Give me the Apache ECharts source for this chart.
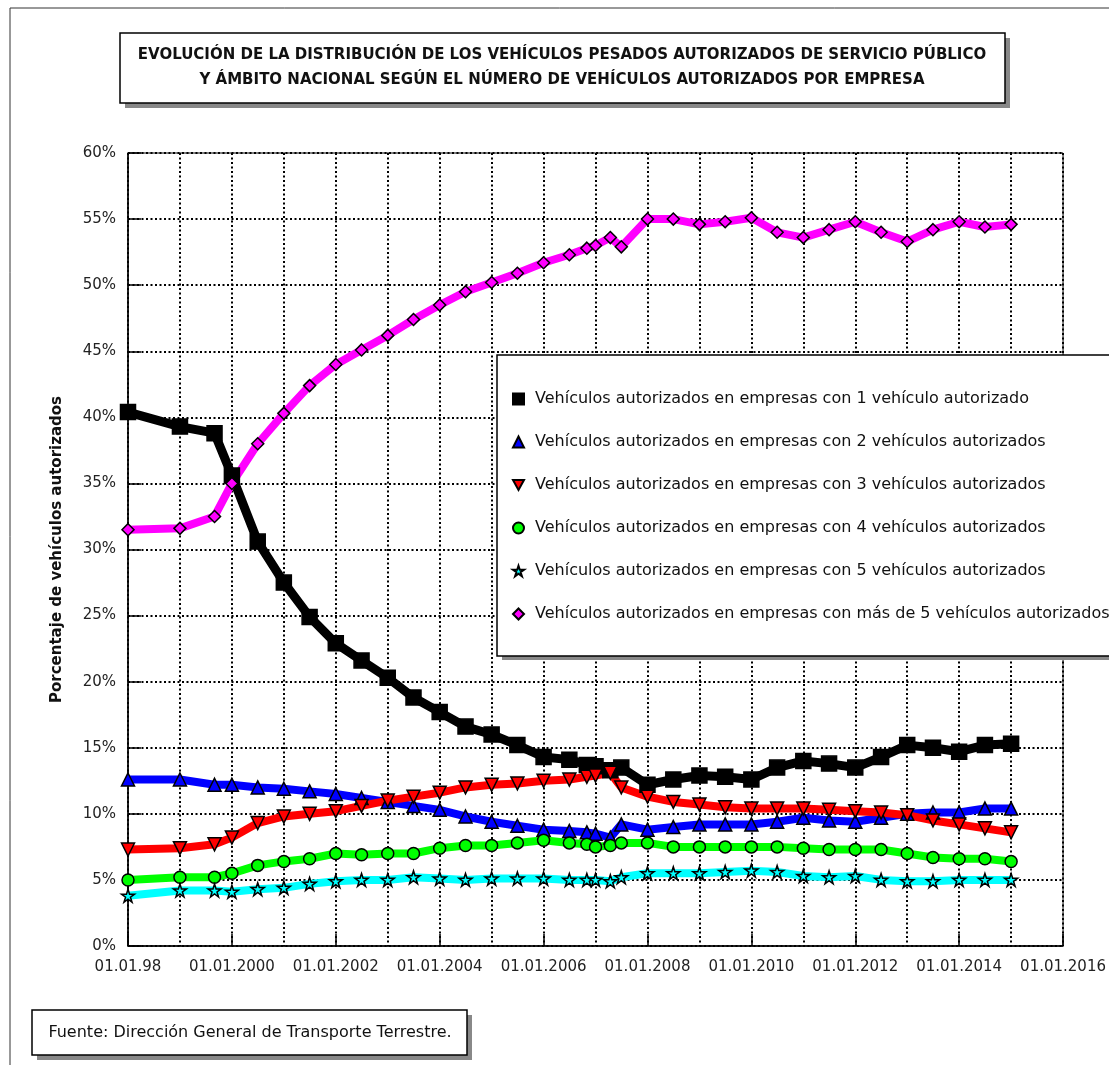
<!DOCTYPE html>
<html>
<head>
<meta charset="utf-8">
<title>Vehículos pesados autorizados</title>
<script src="https://cdn.jsdelivr.net/npm/echarts@6/dist/echarts.min.js"></script>
<style>
    html, body { margin: 0; padding: 0; background: #fff; }
    #chartBox { width: 1109px; height: 1065px; }
</style>
</head>
<body>
<div id="chartBox"></div>
<script>
// fechas de los datos
var fechas = ['1998-01-01', '1999-01-01', '1999-09-01', '2000-01-01', '2000-07-01', '2001-01-01', '2001-07-01',
    '2002-01-01', '2002-07-01', '2003-01-01', '2003-07-01', '2004-01-01', '2004-07-01', '2005-01-01', '2005-07-01',
    '2006-01-01', '2006-07-01', '2006-11-01', '2007-01-01', '2007-04-15', '2007-07-01', '2008-01-01', '2008-07-01',
    '2009-01-01', '2009-07-01', '2010-01-01', '2010-07-01', '2011-01-01', '2011-07-01', '2012-01-01', '2012-07-01',
    '2013-01-01', '2013-07-01', '2014-01-01', '2014-07-01', '2015-01-01'];

var emp1 = [40.4, 39.3, 38.8, 35.6, 30.6, 27.5, 24.9, 22.9, 21.6, 20.3, 18.8, 17.7, 16.6, 16.0, 15.2, 14.3, 14.1, 13.7, 13.6, 13.3, 13.5,
    12.2, 12.6, 12.9, 12.8, 12.6, 13.5, 14.0, 13.8, 13.5, 14.3, 15.2, 15.0, 14.7, 15.2, 15.3];
var emp2 = [12.6, 12.6, 12.2, 12.2, 12.0, 11.9, 11.7, 11.5, 11.2, 10.9, 10.6, 10.3, 9.8, 9.4, 9.1, 8.8, 8.7, 8.6, 8.5, 8.2, 9.2,
    8.8, 9.0, 9.2, 9.2, 9.2, 9.4, 9.7, 9.5, 9.4, 9.7, 10.0, 10.1, 10.1, 10.4, 10.4];
var emp3 = [7.3, 7.4, 7.7, 8.2, 9.3, 9.8, 10.0, 10.2, 10.6, 11.0, 11.3, 11.6, 12.0, 12.2, 12.3, 12.5, 12.6, 12.8, 12.9, 13.1, 12.0,
    11.3, 10.9, 10.7, 10.5, 10.4, 10.4, 10.4, 10.3, 10.2, 10.1, 9.9, 9.5, 9.2, 8.9, 8.6];
var emp4 = [5.0, 5.2, 5.2, 5.5, 6.1, 6.4, 6.6, 7.0, 6.9, 7.0, 7.0, 7.4, 7.6, 7.6, 7.8, 8.0, 7.8, 7.7, 7.5, 7.6, 7.8,
    7.8, 7.5, 7.5, 7.5, 7.5, 7.5, 7.4, 7.3, 7.3, 7.3, 7.0, 6.7, 6.6, 6.6, 6.4];
var emp5 = [3.8, 4.2, 4.2, 4.1, 4.3, 4.4, 4.7, 4.9, 5.0, 5.0, 5.2, 5.1, 5.0, 5.1, 5.1, 5.1, 5.0, 5.0, 5.0, 4.9, 5.2,
    5.5, 5.5, 5.5, 5.6, 5.7, 5.6, 5.3, 5.2, 5.3, 5.0, 4.9, 4.9, 5.0, 5.0, 5.0];
var empMas5 = [31.5, 31.6, 32.5, 35.0, 38.0, 40.3, 42.4, 44.0, 45.1, 46.2, 47.4, 48.5, 49.5, 50.2, 50.9, 51.7, 52.3, 52.8, 53.0, 53.6, 52.9,
    55.0, 55.0, 54.6, 54.8, 55.1, 54.0, 53.6, 54.2, 54.8, 54.0, 53.3, 54.2, 54.8, 54.4, 54.6];

var nombres = [
    'Vehículos autorizados en empresas con 1 vehículo autorizado',
    'Vehículos autorizados en empresas con 2 vehículos autorizados',
    'Vehículos autorizados en empresas con 3 vehículos autorizados',
    'Vehículos autorizados en empresas con 4 vehículos autorizados',
    'Vehículos autorizados en empresas con 5 vehículos autorizados',
    'Vehículos autorizados en empresas con más de 5 vehículos autorizados'
];

var FONT = '"DejaVu Sans", "Liberation Sans", sans-serif';
var TRI_DOWN = 'path://M0,0 L10,0 L5,9 Z';
var STAR = 'path://M5,0 L6.2,3.6 L10,3.6 L6.9,5.8 L8.1,9.5 L5,7.2 L1.9,9.5 L3.1,5.8 L0,3.6 L3.8,3.6 Z';

// fecha -> año decimal
function anioDecimal(s) {
    var p = s.split('-');
    var y = +p[0];
    var t = Date.UTC(y, +p[1] - 1, +p[2]);
    var ini = Date.UTC(y, 0, 1), fin = Date.UTC(y + 1, 0, 1);
    return y + (t - ini) / (fin - ini);
}

function pares(valores) {
    var out = [];
    for (var i = 0; i < fechas.length; i++) {
        out.push([anioDecimal(fechas[i]), valores[i]]);
    }
    return out;
}

function serie(nombre, valores, color, simbolo, tam, grosor) {
    return {
        name: nombre,
        type: 'line',
        data: pares(valores),
        symbol: simbolo,
        symbolSize: tam,
        showAllSymbol: true,
        lineStyle: { color: color, width: grosor || 8 },
        itemStyle: { color: color, borderColor: '#000', borderWidth: 1.5 },
        emphasis: { disabled: true },
        animation: false
    };
}

// caja blanca con sombra gris
function caja(x, y, w, h) {
    return [
        { type: 'rect', z: 100, shape: { x: x + 5, y: y + 5, width: w, height: h }, style: { fill: '#888' } },
        { type: 'rect', z: 100, shape: { x: x, y: y, width: w, height: h }, style: { fill: '#fff', stroke: '#000', lineWidth: 1.5 } }
    ];
}

var dotted = { color: '#000', width: 2, type: [2, 2.5] };

var graficos = [
    { type: 'line', shape: { x1: 10, y1: 8, x2: 1109, y2: 8 }, style: { stroke: '#333', lineWidth: 1 } },
    { type: 'line', shape: { x1: 10, y1: 8, x2: 10, y2: 1065 }, style: { stroke: '#333', lineWidth: 1 } },
    // sombra de la leyenda
    { type: 'rect', z: 3, shape: { x: 502, y: 360, width: 700, height: 300 }, style: { fill: '#888' } }
];
graficos = graficos.concat(caja(120, 33, 885, 70), caja(32, 1010, 435, 45));
graficos.push({
    type: 'text', z: 101, x: 562, y: 68,
    style: {
        text: 'EVOLUCIÓN DE LA DISTRIBUCIÓN DE LOS VEHÍCULOS PESADOS AUTORIZADOS DE SERVICIO PÚBLICO\nY ÁMBITO NACIONAL SEGÚN EL NÚMERO DE VEHÍCULOS AUTORIZADOS POR EMPRESA',
        align: 'center', verticalAlign: 'middle',
        font: 'bold 15px ' + FONT, lineHeight: 25, fill: '#111'
    }
});
graficos.push({
    type: 'text', z: 101, x: 250, y: 1033,
    style: {
        text: 'Fuente: Dirección General de Transporte Terrestre.',
        align: 'center', verticalAlign: 'middle',
        font: '16px ' + FONT, fill: '#111'
    }
});

var option = {
    backgroundColor: '#fff',
    animation: false,
    textStyle: { fontFamily: FONT },
    grid: {
        left: 128, right: 45, top: 153, bottom: 119,
        show: true, borderColor: '#000', borderWidth: 1
    },
    xAxis: [{
        type: 'value',
        min: 1998, max: 2016, interval: 2,
        axisLine: { lineStyle: { color: '#000', width: 1.5 } },
        axisTick: { inside: true, length: 12, lineStyle: { color: '#000', width: 1.5 } },
        axisLabel: {
            color: '#222', fontSize: 15, fontFamily: FONT, margin: 14,
            formatter: function (v) { return v === 1998 ? '01.01.98' : '01.01.' + v; }
        },
        splitLine: { show: false }
    }, {
        type: 'value',
        position: 'top',
        min: 1998, max: 2016, interval: 1,
        axisLine: { show: false },
        axisTick: { show: false },
        axisLabel: { show: false },
        splitLine: { show: true, lineStyle: dotted }
    }],
    yAxis: {
        type: 'value',
        min: 0, max: 60, interval: 5,
        name: 'Porcentaje de vehículos autorizados',
        nameLocation: 'middle',
        nameRotate: 90,
        nameGap: 63,
        nameTextStyle: { fontSize: 15, fontWeight: 'bold', color: '#111', fontFamily: FONT },
        axisLine: { lineStyle: { color: '#000', width: 1.5 } },
        axisTick: { inside: true, length: 13, lineStyle: { color: '#000', width: 1.5 } },
        axisLabel: { color: '#222', fontSize: 15, fontFamily: FONT, margin: 12, formatter: '{value}%' },
        splitLine: { show: true, lineStyle: dotted }
    },
    legend: {
        orient: 'vertical',
        left: 497, top: 355,
        padding: [36, 40, 34, 15],
        itemGap: 27,
        itemWidth: 11, itemHeight: 11,
        backgroundColor: '#fff',
        borderColor: '#000', borderWidth: 1.5,
        selectedMode: false,
        textStyle: { fontSize: 16, color: '#111', fontFamily: FONT, padding: [0, 0, 0, 6] },
        data: [
            { name: nombres[0], icon: 'rect' },
            { name: nombres[1], icon: 'triangle' },
            { name: nombres[2], icon: TRI_DOWN },
            { name: nombres[3], icon: 'circle' },
            { name: nombres[4], icon: STAR },
            { name: nombres[5], icon: 'diamond' }
        ]
    },
    graphic: graficos,
    series: [
        serie(nombres[0], emp1, '#000000', 'rect', 15, 9),
        serie(nombres[1], emp2, '#0000ff', 'triangle', 13),
        serie(nombres[2], emp3, '#ff0000', TRI_DOWN, 13),
        serie(nombres[3], emp4, '#00ff00', 'circle', 12),
        serie(nombres[4], emp5, '#00ffff', STAR, 13),
        serie(nombres[5], empMas5, '#ff00ff', 'diamond', 12)
    ]
};

var myChart = echarts.init(document.getElementById('chartBox'));
myChart.setOption(option);
</script>
</body>
</html>
